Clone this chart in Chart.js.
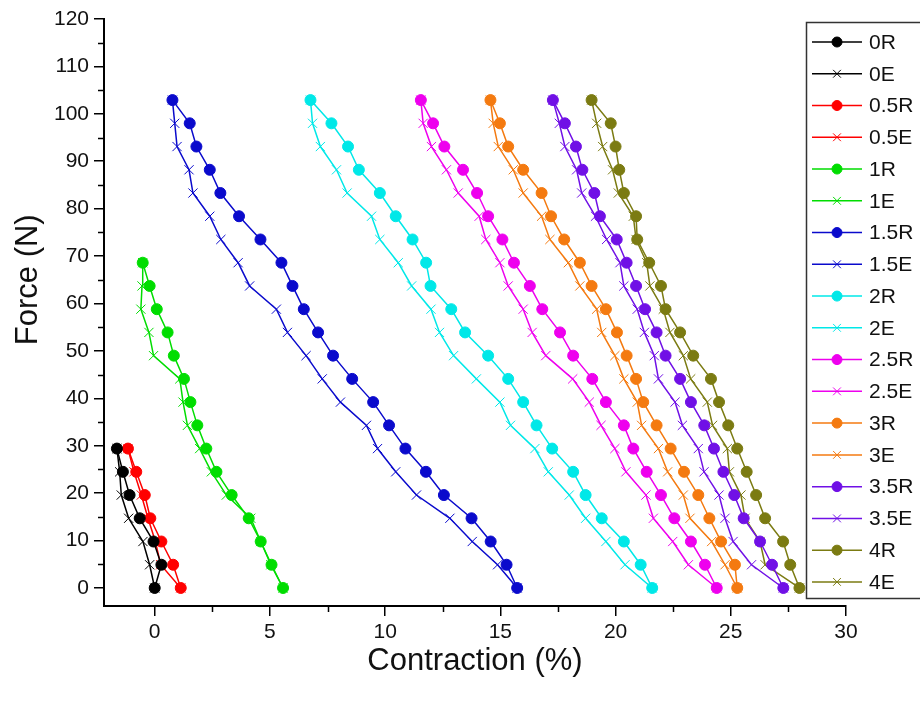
<!DOCTYPE html>
<html>
<head>
<meta charset="utf-8">
<script src="https://cdn.jsdelivr.net/npm/chart.js@4.4.1/dist/chart.umd.min.js"></script>
<style>
html, body { margin: 0; padding: 0; background: #fff; }
</style>
</head>
<body>
<canvas id="chart" width="920" height="708"></canvas>
<script>
// force levels (N), shared by every series, bottom to top
const forceLevels = [0, 4.9, 9.8, 14.7, 19.6, 24.5, 29.4, 34.3, 39.2, 44.1, 49, 53.9,
    58.8, 63.7, 68.6, 73.5, 78.4, 83.3, 88.2, 93.1, 98, 102.9];

// contraction (%), one value per force level
const c0R = [0.0, 0.29, -0.05, -0.65, -1.09, -1.38, -1.64];
const c0E = [0.0, -0.22, -0.51, -1.13, -1.45, -1.52, -1.64];
const c05R = [1.13, 0.80, 0.29, -0.19, -0.43, -0.80, -1.16];
const c05E = [1.13, 0.26, 0.03, -0.29, -0.58, -0.90, -1.16];
const c1R = [5.57, 5.07, 4.60, 4.08, 3.34, 2.68, 2.24, 1.85, 1.55, 1.27, 0.83, 0.56, 0.09, -0.22, -0.52];
const c1E = [5.57, 5.04, 4.60, 4.17, 3.11, 2.46, 1.95, 1.42, 1.23, 1.09, -0.05, -0.25, -0.60, -0.55, -0.52];
const c15R = [15.73, 15.27, 14.58, 13.75, 12.55, 11.77, 10.88, 10.17, 9.48, 8.57, 7.74, 7.09,
    6.47, 5.98, 5.50, 4.59, 3.66, 2.85, 2.39, 1.81, 1.52, 0.77];
const c15E = [15.73, 14.88, 13.78, 12.81, 11.36, 10.46, 9.67, 9.19, 8.06, 7.27, 6.57, 5.76,
    5.28, 4.12, 3.62, 2.87, 2.39, 1.66, 1.49, 0.97, 0.87, 0.77];
const c2R = [21.59, 21.09, 20.36, 19.40, 18.70, 18.16, 17.25, 16.57, 15.99, 15.34, 14.47, 13.47,
    12.87, 11.97, 11.78, 11.19, 10.46, 9.77, 8.86, 8.39, 7.67, 6.76];
const c2E = [21.59, 20.41, 19.58, 18.70, 17.99, 17.08, 16.50, 15.44, 14.98, 13.96, 12.97, 12.36,
    11.99, 11.15, 10.57, 9.77, 9.41, 8.35, 7.89, 7.19, 6.85, 6.76];
const c25R = [24.39, 23.88, 23.27, 22.55, 21.97, 21.35, 20.77, 20.36, 19.58, 18.99, 18.16, 17.59,
    16.82, 16.28, 15.59, 15.09, 14.47, 13.99, 13.38, 12.57, 12.08, 11.55];
const c25E = [24.39, 23.16, 22.48, 21.64, 21.32, 20.45, 19.97, 19.37, 18.86, 18.14, 16.97, 16.38,
    15.99, 15.34, 14.98, 14.37, 14.08, 13.17, 12.66, 12.01, 11.65, 11.55];
const c3R = [25.28, 25.18, 24.58, 24.07, 23.59, 22.97, 22.39, 21.78, 21.20, 20.89, 20.48, 20.06,
    19.58, 18.96, 18.45, 17.77, 17.20, 16.79, 15.99, 15.34, 14.98, 14.57];
const c3E = [25.28, 24.75, 24.17, 23.23, 22.94, 22.26, 21.86, 21.13, 20.94, 20.36, 19.97, 19.40,
    19.18, 18.45, 17.95, 17.15, 16.79, 15.99, 15.56, 14.91, 14.69, 14.57];
const c35R = [27.28, 26.79, 26.27, 25.56, 25.15, 24.68, 24.27, 23.85, 23.27, 22.80, 22.17, 21.78,
    21.28, 20.89, 20.48, 20.05, 19.32, 19.08, 18.56, 18.28, 17.80, 17.28];
const c35E = [27.28, 25.90, 25.10, 24.75, 24.49, 23.84, 23.59, 22.90, 22.58, 21.86, 21.68, 21.25,
    20.94, 20.36, 20.19, 19.61, 19.13, 18.53, 18.31, 17.80, 17.56, 17.28];
const c4R = [27.98, 27.58, 27.27, 26.49, 26.10, 25.69, 25.28, 24.89, 24.49, 24.14, 23.37, 22.80,
    22.17, 21.97, 21.46, 20.94, 20.89, 20.36, 20.16, 20.00, 19.79, 18.96];
const c4E = [27.98, 26.49, 26.27, 25.62, 25.44, 24.94, 24.85, 24.21, 23.98, 23.26, 22.94, 22.36,
    22.07, 21.49, 21.35, 20.89, 20.77, 20.12, 19.87, 19.44, 19.18, 18.96];

const seriesNames = ['0R', '0E', '0.5R', '0.5E', '1R', '1E', '1.5R', '1.5E', '2R', '2E',
    '2.5R', '2.5E', '3R', '3E', '3.5R', '3.5E', '4R', '4E'];
const seriesValues = [c0R, c0E, c05R, c05E, c1R, c1E, c15R, c15E, c2R, c2E,
    c25R, c25E, c3R, c3E, c35R, c35E, c4R, c4E];
const groupColors = ['#000000', '#ff0000', '#00dd00', '#0a0acc', '#00e8e8',
    '#ee00ee', '#f47a10', '#7010e6', '#7b7b12'];

const xTicks = [0, 5, 10, 15, 20, 25, 30];
const yTicks = [0, 10, 20, 30, 40, 50, 60, 70, 80, 90, 100, 110, 120];

const FONT = "'Liberation Sans', Arial, sans-serif";

const datasets = seriesNames.map((name, i) => {
    const color = groupColors[Math.floor(i / 2)];
    const isR = name.endsWith('R');
    return {
        label: name,
        data: seriesValues[i].map((x, j) => ({ x: x, y: forceLevels[j] })),
        showLine: true,
        borderColor: color,
        backgroundColor: color,
        borderWidth: 1.5,
        pointStyle: isR ? 'circle' : 'crossRot',
        pointRadius: isR ? 5.5 : 6.5,
        pointBorderWidth: 1,
        pointBackgroundColor: color,
        pointBorderColor: color
    };
});

// minor ticks between the labelled ones
const minorTicks = {
    id: 'minorTicks',
    afterDraw(chart) {
        const ctx = chart.ctx;
        const xs = chart.scales.x, ys = chart.scales.y;
        const area = chart.chartArea;
        ctx.save();
        ctx.strokeStyle = '#000';
        ctx.lineWidth = 1.5;
        ctx.beginPath();
        for (let v = 2.5; v < 30; v += 5) {
            const px = Math.round(xs.getPixelForValue(v)) + 0.5;
            ctx.moveTo(px, area.bottom);
            ctx.lineTo(px, area.bottom + 6);
        }
        for (let v = 5; v < 120; v += 10) {
            const py = Math.round(ys.getPixelForValue(v)) + 0.5;
            ctx.moveTo(area.left, py);
            ctx.lineTo(area.left - 6, py);
        }
        ctx.stroke();
        ctx.restore();
    }
};

// y title, placed like the original (not centred on the axis)
const yTitle = {
    id: 'yTitle',
    afterDraw(chart) {
        const ctx = chart.ctx;
        ctx.save();
        ctx.translate(28, chart.scales.y.getPixelForValue(65));
        ctx.rotate(-Math.PI / 2);
        ctx.font = '31px ' + FONT;
        ctx.fillStyle = '#111';
        ctx.textAlign = 'center';
        ctx.textBaseline = 'middle';
        ctx.fillText('Force (N)', 0, 0);
        ctx.restore();
    }
};

// legend box on the right: line with marker in the middle, then the name
const sideLegend = {
    id: 'sideLegend',
    afterDraw(chart) {
        const ctx = chart.ctx;
        const left = 806, top = 22, bottom = 598;
        ctx.save();
        ctx.fillStyle = '#fff';
        ctx.fillRect(left, top, 930 - left, bottom - top);
        ctx.strokeStyle = '#333';
        ctx.lineWidth = 1.5;
        ctx.strokeRect(left + 0.5, top + 0.5, 940 - left, bottom - top);
        chart.data.datasets.forEach((ds, i) => {
            const y = 42 + i * 31.76;
            ctx.strokeStyle = ds.borderColor;
            ctx.fillStyle = ds.borderColor;
            ctx.lineWidth = 1.5;
            ctx.beginPath();
            ctx.moveTo(812, y);
            ctx.lineTo(862, y);
            ctx.stroke();
            ctx.lineWidth = 1;
            Chart.helpers.drawPoint(ctx, {
                pointStyle: ds.pointStyle,
                radius: ds.pointStyle === 'circle' ? 5 : 5.5,
                borderWidth: 1,
                rotation: 0
            }, 837, y);
            ctx.fillStyle = '#111';
            ctx.font = '21px ' + FONT;
            ctx.textAlign = 'left';
            ctx.textBaseline = 'middle';
            ctx.fillText(ds.label, 869, y + 1);
        });
        ctx.restore();
    }
};

new Chart(document.getElementById('chart'), {
    type: 'scatter',
    data: { datasets: datasets },
    plugins: [minorTicks, yTitle, sideLegend],
    options: {
        responsive: false,
        animation: false,
        layout: { padding: { top: 19, right: 74, left: 0, bottom: 0 } },
        plugins: {
            legend: { display: false },
            tooltip: { enabled: false }
        },
        scales: {
            x: {
                type: 'linear',
                min: -2.2,
                max: 30,
                afterBuildTicks: s => { s.ticks = xTicks.map(v => ({ value: v })); },
                afterFit: s => { s.height = 102; },
                border: { display: true, color: '#000', width: 2 },
                grid: { drawOnChartArea: false, drawTicks: true, tickLength: 10, color: '#000', lineWidth: 1.5 },
                ticks: { color: '#111', font: { family: FONT, size: 21 }, padding: 4, maxRotation: 0 },
                title: {
                    display: true, text: 'Contraction (%)', color: '#111',
                    font: { family: FONT, size: 31 }, padding: { top: 4, bottom: 28 }
                }
            },
            y: {
                type: 'linear',
                min: -3.8,
                max: 120,
                afterBuildTicks: s => { s.ticks = yTicks.map(v => ({ value: v })); },
                afterFit: s => { s.width = 104; },
                border: { display: true, color: '#000', width: 2 },
                grid: { drawOnChartArea: false, drawTicks: true, tickLength: 10, color: '#000', lineWidth: 1.5 },
                ticks: { color: '#111', font: { family: FONT, size: 21 }, padding: 5 }
            }
        }
    }
});
</script>
</body>
</html>
